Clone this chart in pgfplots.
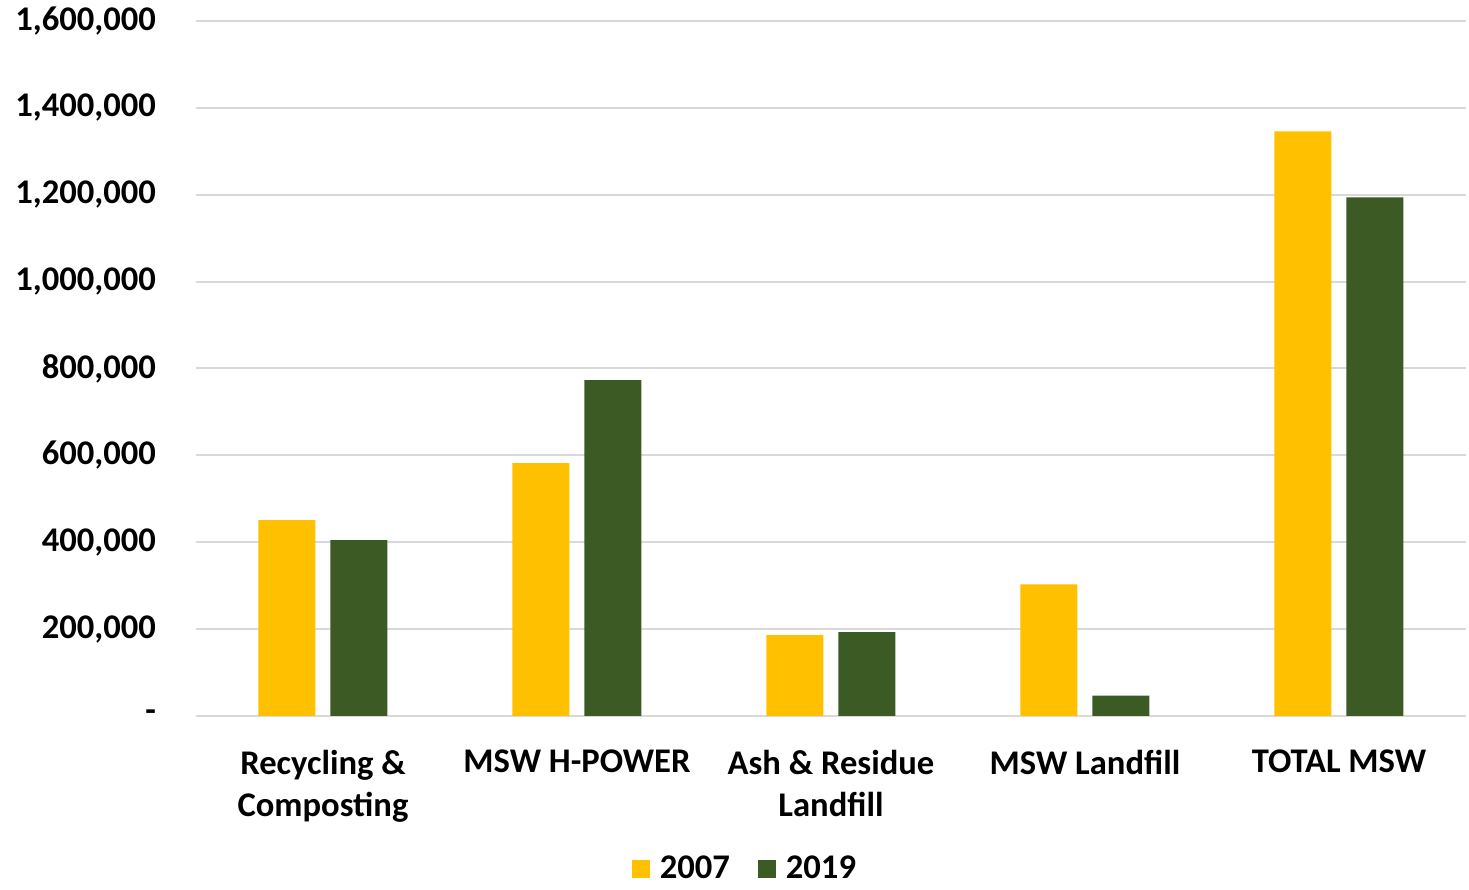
\documentclass[border=0pt]{standalone}
\usepackage{fontspec}
\setmainfont{Carlito}
\usepackage{pgfplots}
\pgfplotsset{compat=1.18}
\definecolor{y07}{HTML}{FFC000}
\definecolor{g19}{HTML}{3B5A24}
\definecolor{gridc}{HTML}{D9D9D9}
\newcommand{\lblfont}{\bfseries\fontsize{17.3}{21}\selectfont}

\begin{document}
\begin{tikzpicture}
\path (0pt,0pt) rectangle (734.5pt,442.5pt); % page size
\begin{axis}[
  at={(98pt,84.5pt)}, anchor=south west,
  scale only axis, width=635pt, height=347.5pt,
  ybar=7.5pt, bar width=28.5pt,
  xmin=-0.5, xmax=4.5, ymin=0, ymax=1600000,
  scaled y ticks=false,
  xtick={0,1,2,3,4},
  xticklabels={{Recycling \&\\Composting},{MSW H-POWER},{Ash \& Residue\\Landfill},{MSW Landfill},{TOTAL MSW}},
  ytick={0,200000,400000,600000,800000,1000000,1200000,1400000,1600000},
  yticklabels={{-},{200,000},{400,000},{600,000},{800,000},{1,000,000},{1,200,000},{1,400,000},{1,600,000}},
  axis line style={draw=none}, major tick length=0,
  ymajorgrids, grid style={gridc, line width=1pt},
  tick label style={font=\lblfont},
  yticklabel style={xshift=-16.5pt},
  xticklabel style={align=center, yshift=-13.5pt},
  legend style={draw=none, at={(0.433,-0.22)}, anchor=center, legend columns=-1,
    font=\lblfont, /tikz/every even column/.append style={column sep=12pt}},
  legend image code/.code={\fill[#1] (0pt,-4.5pt) rectangle (9pt,4.5pt); \path (12pt,0pt);},
]
\addplot[fill=y07, draw=none] coordinates {(0,451000) (1,582000) (2,186000) (3,303000) (4,1346000)};
\addplot[fill=g19, draw=none] coordinates {(0,405000) (1,773000) (2,193000) (3,47000) (4,1194000)};
\legend{2007,2019}
\end{axis}
\end{tikzpicture}
\end{document}
